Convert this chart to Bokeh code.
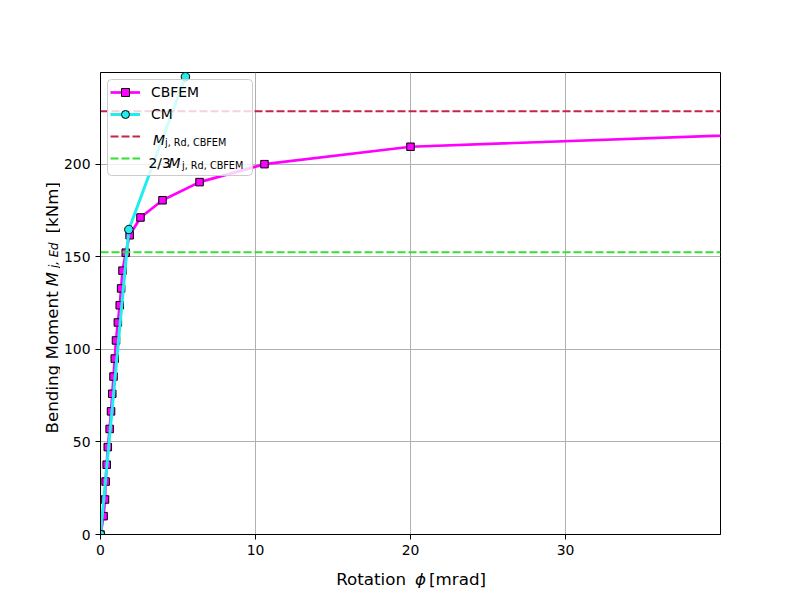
import math
from bokeh.plotting import figure
from bokeh.layouts import row, column
from bokeh.models import (ColumnDataSource, Range1d, FixedTicker, Legend,
                          LegendItem, Label, BoxAnnotation)
from bokeh.embed import file_html
from bokeh.resources import INLINE

# ---------------- data ----------------
phi_cbfem = [0.0, 0.20, 0.29, 0.33, 0.40, 0.47, 0.59, 0.68, 0.76, 0.84, 0.92,
             1.00, 1.12, 1.24, 1.33, 1.42, 1.63, 1.88, 2.58, 4.00, 6.39,
             10.58, 20.00, 47.0]
m_cbfem = [0.0, 9.9, 18.9, 28.6, 37.7, 47.2, 57.0, 66.5, 76.0, 85.3, 95.0,
           104.8, 114.5, 123.8, 132.9, 142.5, 152.2, 161.6, 171.2, 180.5,
           190.3, 200.0, 209.4, 217.5]
phi_cm = [0.0, 1.83, 5.48]
m_cm = [0.0, 164.7, 247.2]
m_rd_cbfem = 228.6
m_two_thirds = 152.4

x_limits = [0, 40]
y_limits = [0, 249.5]
x_ticks = [0, 10, 20, 30]
y_ticks = [0, 50, 100, 150, 200]

legend_labels = ["CBFEM", "CM"]

# ---------------- styles ----------------
MAGENTA = "#ff00ff"
CYAN = "#20eeee"
CRIMSON = "#c8234c"
LIME = "#35e035"
FONT = "DejaVu Sans"

LEFT_W = 60          # width of the strip holding the y-axis title
MAIN_W = 732
MAIN_H = 564
BOTTOM_H = 28

p = figure(width=MAIN_W, height=MAIN_H, output_backend="svg",
           toolbar_location=None,
           x_range=Range1d(*x_limits), y_range=Range1d(*y_limits),
           min_border_left=40, min_border_right=72, min_border_top=72,
           min_border_bottom=30, background_fill_color="white",
           border_fill_color="white")

p.outline_line_color = "black"
p.outline_line_width = 1
p.outline_line_alpha = 1

for ax, ticks in ((p.xaxis, x_ticks), (p.yaxis, y_ticks)):
    ax.ticker = FixedTicker(ticks=ticks)
    ax.minor_tick_line_color = None
    ax.major_tick_in = 0
    ax.major_tick_out = 5
    ax.major_tick_line_color = "black"
    ax.axis_line_color = "black"
    ax.major_label_text_font = FONT
    ax.major_label_text_font_size = "13.9px"
    ax.major_label_text_color = "black"
    ax.major_label_standoff = 5

p.xgrid.ticker = FixedTicker(ticks=x_ticks)
p.ygrid.ticker = FixedTicker(ticks=y_ticks)
for g in (p.xgrid, p.ygrid):
    g.grid_line_color = "#b0b0b0"
    g.grid_line_width = 1

src_cb = ColumnDataSource(dict(phi=phi_cbfem, m=m_cbfem))
src_cm = ColumnDataSource(dict(phi=phi_cm, m=m_cm))
src_rd = ColumnDataSource(dict(phi=x_limits, m=[m_rd_cbfem, m_rd_cbfem]))
src_23 = ColumnDataSource(dict(phi=x_limits, m=[m_two_thirds, m_two_thirds]))

r_cb_line = p.line("phi", "m", source=src_cb, line_color=MAGENTA, line_width=2.7)
r_cb_pts = p.scatter("phi", "m", source=src_cb, marker="square", size=7.5,
                     fill_color=MAGENTA, line_color="black", line_width=1)
r_cm_line = p.line("phi", "m", source=src_cm, line_color=CYAN, line_width=3)
r_cm_pts = p.scatter("phi", "m", source=src_cm, marker="circle", size=8.5,
                     fill_color=CYAN, line_color="black", line_width=1)
r_rd = p.line("phi", "m", source=src_rd, line_color=CRIMSON, line_width=2,
              line_dash="8 3")
r_23 = p.line("phi", "m", source=src_23, line_color=LIME, line_width=2,
              line_dash="8 3")

ox = LEFT_W   # main-figure canvas x = page x - ox

# legend frame (white, 80 % opaque, light grey rounded border)
p.add_layout(BoxAnnotation(left=107 - ox, right=252 - ox, top=79, bottom=175,
                           left_units="canvas", right_units="canvas",
                           top_units="canvas", bottom_units="canvas",
                           fill_color="white", fill_alpha=0.8,
                           line_color="#cccccc", line_alpha=1, line_width=1,
                           border_radius=4, level="annotation"))

legend = Legend(items=[
    LegendItem(label=legend_labels[0], renderers=[r_cb_line, r_cb_pts]),
    LegendItem(label=legend_labels[1], renderers=[r_cm_line, r_cm_pts]),
    LegendItem(label=" ", renderers=[r_rd]),
    LegendItem(label="  ", renderers=[r_23]),
], location="top_left")
legend.margin = 10
legend.padding = 4
legend.spacing = 2
legend.label_height = 20
legend.glyph_height = 20
legend.glyph_width = 30
legend.label_standoff = 11
legend.label_width = 90
legend.label_text_font = FONT
legend.label_text_font_size = "13.9px"
legend.label_text_color = "black"
legend.border_line_color = None
legend.background_fill_alpha = 0
p.add_layout(legend)


def lab(fig, x, y, text, size, italic=False, angle=0.0):
    fig.add_layout(Label(x=x, y=y, x_units="canvas", y_units="canvas",
                         text=text, text_font=FONT, text_font_size=size,
                         text_font_style="italic" if italic else "normal",
                         text_color="black", angle=angle, text_align="left",
                         text_baseline="alphabetic"))


# legend math labels
lab(p, 152.5 - ox, 139.5, "M", "13.9px", italic=True)
lab(p, 164.5 - ox, 142.0, "j, Rd, CBFEM", "9.7px")
lab(p, 148.0 - ox, 162.5, "2/3", "13.9px")
lab(p, 168.0 - ox, 162.5, "M", "13.9px", italic=True)
lab(p, 181.5 - ox, 165.0, "j, Rd, CBFEM", "9.7px")


def strip(w, h):
    f = figure(width=w, height=h, output_backend="svg", toolbar_location=None,
               x_range=Range1d(0, w), y_range=Range1d(0, h),
               x_axis_location=None, y_axis_location=None, min_border=0,
               background_fill_color="white", border_fill_color="white")
    f.outline_line_color = None
    f.xgrid.visible = False
    f.ygrid.visible = False
    return f


# y-axis title strip
yfig = strip(LEFT_W, MAIN_H + BOTTOM_H)
A = math.pi / 2
lab(yfig, 51, 433, "Bending Moment", "16.7px", angle=A)
lab(yfig, 51, 286, "M", "16.7px", italic=True, angle=A)
lab(yfig, 53.5, 267.5, "j, Ed", "11.7px", italic=True, angle=A)
lab(yfig, 51, 233, "[kNm]", "16.7px", angle=A)

# x-axis title strip
xfig = strip(MAIN_W, BOTTOM_H)
by = 578.3 - MAIN_H
lab(xfig, 335.7 - ox, by, "Rotation", "16.7px")
lab(xfig, 414.5 - ox, by, "\u03d5", "16.7px", italic=True)
lab(xfig, 428.6 - ox, by, "[mrad]", "16.7px")

layout = row(yfig, column(p, xfig))
open("out.html", "w").write(file_html(layout, INLINE))
